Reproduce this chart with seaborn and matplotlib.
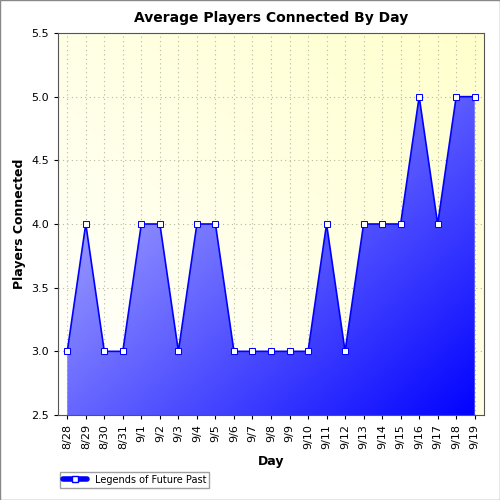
import numpy as np
import pandas as pd
import matplotlib
matplotlib.use("Agg")
import matplotlib.pyplot as plt
import seaborn as sns
from matplotlib.lines import Line2D

days = ['8/28', '8/29', '8/30', '8/31', '9/1', '9/2', '9/3', '9/4', '9/5', '9/6', '9/7', '9/8',
        '9/9', '9/10', '9/11', '9/12', '9/13', '9/14', '9/15', '9/16', '9/17', '9/18', '9/19']
players = [3, 4, 3, 3, 4, 4, 3, 4, 4, 3, 3, 3, 3, 3, 4, 3, 4, 4, 4, 5, 4, 5, 5]

df = pd.DataFrame({'day': days, 'players': players})
df['x'] = range(len(df))

sns.set_style('white')
plt.rcParams['font.family'] = ['DejaVu Sans']
plt.rcParams['text.color'] = 'black'
plt.rcParams['axes.labelcolor'] = 'black'
plt.rcParams['xtick.color'] = 'black'
plt.rcParams['ytick.color'] = 'black'

fig = plt.figure(figsize=(5, 5), dpi=100)
ax = fig.add_axes([0.116, 0.17, 0.852, 0.764])

xmin, xmax = -0.5, len(df) - 0.5
ymin, ymax = 2.5, 5.5

# background: pale yellow fading to white toward bottom-left
gx, gy = np.meshgrid(np.linspace(0, 1, 200), np.linspace(0, 1, 200))
t = np.clip((gx + gy) / 2, 0, 1)
bg = np.ones((200, 200, 3))
bg[..., 2] = 1.0 - 0.2 * t
ax.imshow(bg, extent=[xmin, xmax, ymin, ymax], origin='lower', aspect='auto', zorder=0)

ax.grid(True, color='#b8b8a0', linestyle=(0, (1, 3)), linewidth=0.8, zorder=1)
ax.set_axisbelow(True)

# gradient fill under line: light lavender top-left to strong blue bottom-right
fill = ax.fill_between(df['x'], df['players'], ymin, facecolor='none', edgecolor='none')
s = np.clip((gx + (1 - gy)) / 2, 0, 1)
grad = np.zeros((200, 200, 3))
grad[..., 0] = 0.82 * (1 - s)
grad[..., 1] = 0.82 * (1 - s)
grad[..., 2] = 1.0
im = ax.imshow(grad, extent=[xmin, xmax, ymin, ymax], origin='lower', aspect='auto', zorder=2)
im.set_clip_path(fill.get_paths()[0], transform=ax.transData)

sns.lineplot(data=df, x='x', y='players', color='#0000ff', linewidth=1.2, marker='s',
             markersize=5, markerfacecolor='white', markeredgecolor='#0000ff', ax=ax, zorder=3)

ax.set_xlim(xmin, xmax)
ax.set_ylim(ymin, ymax)
ax.set_xticks(df['x'])
ax.set_xticklabels(df['day'], rotation=90, fontsize=8)
ax.set_yticks(np.arange(2.5, 5.51, 0.5))
ax.set_yticklabels([f'{v:.1f}' for v in np.arange(2.5, 5.51, 0.5)], fontsize=8)
ax.tick_params(axis='both', length=3, direction='out', bottom=True, left=True)
for sp in ax.spines.values():
    sp.set_color('#555555')
    sp.set_linewidth(0.8)

ax.set_title('Average Players Connected By Day', fontsize=10, fontweight='bold', pad=8)
ax.set_xlabel('Day', fontsize=9, fontweight='bold')
ax.set_ylabel('Players Connected', fontsize=9, fontweight='bold')

handle = Line2D([], [], color='#0000ff', linewidth=4, marker='s', markersize=5,
                markerfacecolor='white', markeredgecolor='#0000ff')
fig.legend([handle], ['Legends of Future Past'], loc='lower left', bbox_to_anchor=(0.11, 0.015),
           fontsize=7, frameon=True, fancybox=False, edgecolor='#888888', handlelength=2.5,
           borderpad=0.3)

fig.patches.append(plt.Rectangle((0, 0), 1, 1, transform=fig.transFigure, fill=False,
                                 edgecolor='#888888', linewidth=1))

fig.savefig('out.png', dpi=100)
